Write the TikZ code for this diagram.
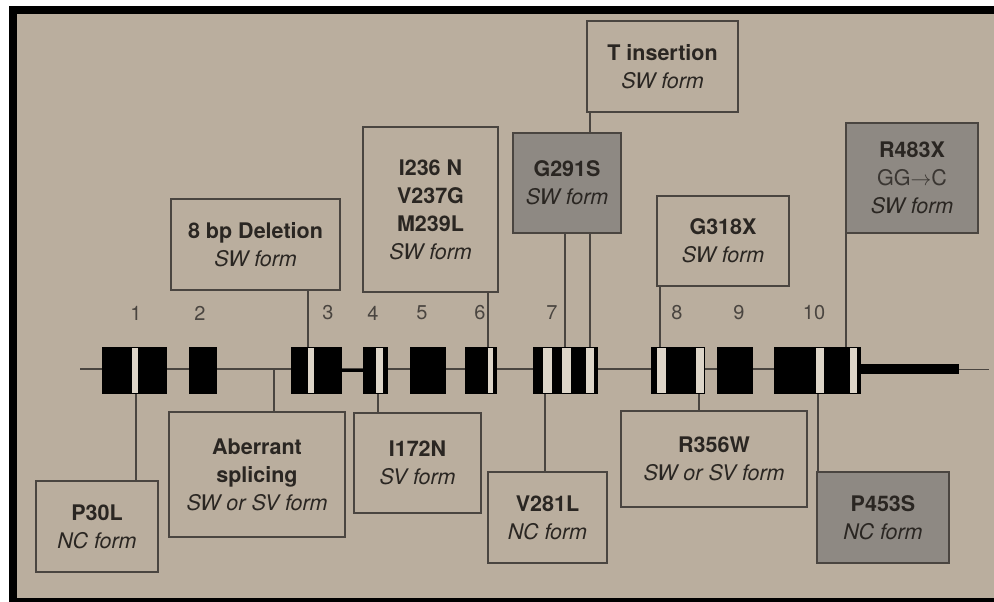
\documentclass[tikz,border=0pt]{standalone}
\usepackage{fontspec}
\setmainfont{TeX Gyre Heros}
\usepackage{tikz}
\usetikzlibrary{positioning}
\definecolor{paper}{HTML}{BAAE9E}
\definecolor{shade}{HTML}{8E8983}
\definecolor{ink}{HTML}{2A2622}
\definecolor{rule}{HTML}{4A4540}
\definecolor{stripe}{HTML}{DDD5C8}
\definecolor{soft}{HTML}{3A3632}
\newcommand{\mut}[1]{\textbf{#1}}
\newcommand{\frm}[1]{\textit{#1}}

\begin{document}
\begin{tikzpicture}[x=1pt,y=-1pt]
\tikzstyle{every node}=[font=\fontsize{21.5}{28}\selectfont,text=ink]
\tikzstyle{mutbox}=[draw=rule,line width=1.3pt,fill=paper,align=center,inner sep=0pt]
\tikzstyle{darkbox}=[mutbox,fill=shade]
\tikzstyle{exon}=[fill=black,inner sep=0pt,minimum height=47pt]
\tikzstyle{band}=[fill=stripe]
\tikzstyle{link}=[draw=rule,line width=1.4pt]
\tikzstyle{num}=[text=rule,font=\fontsize{20}{24}\selectfont]
\useasboundingbox (0,0) rectangle (994,602);
% frame
\fill[white] (0,0) rectangle (994,602);
\fill[black] (9,6) rectangle (994,602);
\fill[paper] (17,14) rectangle (994,598);
% gene
\coordinate (start) at (80,369);
\coordinate (stop) at (989,369);
\node[fill=black,inner sep=0pt,minimum width=98pt,minimum height=10pt] (utr) at (910,369) {};
\draw[link] (start) -- (utr.west);
\draw[draw=rule,line width=0.8pt] (utr.east) -- (stop);
\node[exon,minimum width=65pt] (e1) at (134.5,370.5) {};
\node[exon,minimum width=28pt] (e2) at (203,370.5) {};
\node[exon,minimum width=51pt] (e3) at (316.5,370.5) {};
\node[exon,minimum width=25pt] (e4) at (375.5,370.5) {};
\node[exon,minimum width=36pt] (e5) at (428,370.5) {};
\node[exon,minimum width=32pt] (e6) at (481,370.5) {};
\node[exon,minimum width=65pt] (e7) at (565.5,370.5) {};
\node[exon,minimum width=54pt] (e8) at (678,370.5) {};
\node[exon,minimum width=36pt] (e9) at (735,370.5) {};
\node[exon,minimum width=87pt] (e10) at (817.5,370.5) {};
\draw[draw=black,line width=3pt] (e3.east) -- (e4.west);
\fill[band] (132,348) rectangle (138,393);
\fill[band] (308,348) rectangle (314,393);
\fill[band] (376,348) rectangle (383,393);
\fill[band] (488,348) rectangle (493,393);
\fill[band] (543,348) rectangle (552,393);
\fill[band] (562,348) rectangle (571,393);
\fill[band] (586,348) rectangle (594,393);
\fill[band] (657,348) rectangle (666,393);
\fill[band] (696,348) rectangle (704,393);
\fill[band] (816,348) rectangle (824,393);
\fill[band] (850,348) rectangle (857,393);
% exon numbers
\node[num] (n1) at (136,313) {1};
\node[num] (n2) at (200,313) {2};
\node[num] (n3) at (328,313) {3};
\node[num] (n4) at (373,313) {4};
\node[num] (n5) at (422,313) {5};
\node[num] (n6) at (480,313) {6};
\node[num] (n7) at (552,313) {7};
\node[num] (n8) at (677,313) {8};
\node[num] (n9) at (739,313) {9};
\node[num] (n10) at (814,313) {10};
% attachment points
\coordinate (a1) at (136,394);
\coordinate (a2) at (274,369);
\coordinate (a3) at (308,347);
\coordinate (a4) at (378,394);
\coordinate (a6) at (488,347);
\coordinate (a7) at (545,394);
\coordinate (b7) at (565,347);
\coordinate (c7) at (590,347);
\coordinate (a8) at (660,347);
\coordinate (b8) at (699,394);
\coordinate (a10) at (846,347);
\coordinate (b10) at (818,394);
% mutations above
\node[mutbox,minimum width=151pt,minimum height=91pt] (tins) at (662.5,66.5) {\mut{T insertion}\\\frm{SW form}};
\draw[link] (tins.south -| c7) -- (c7);
\node[mutbox,minimum width=169pt,minimum height=91pt] (del) at (255.5,244.5) {\mut{8 bp Deletion}\\\frm{SW form}};
\node[mutbox,minimum width=135pt,minimum height=165pt] (ivm) at (430.5,209.5) {\mut{I236 N}\\\mut{V237G}\\\mut{M239L}\\\frm{SW form}};
\node[darkbox,minimum width=108pt,minimum height=100pt] (g291) at (567,183) {\mut{G291S}\\\frm{SW form}};
\node[mutbox,minimum width=132pt,minimum height=90pt] (g318) at (723,241) {\mut{G318X}\\\frm{SW form}};
\node[darkbox,minimum width=132pt,minimum height=110pt] (r483) at (912,178) {\mut{R483X}\\{\color{soft}GG$\rightarrow$C}\\\frm{SW form}};
\draw[link] (del.south -| a3) -- (a3);
\draw[link] (ivm.south -| a6) -- (a6);
\draw[link] (g291.south -| b7) -- (b7);
\draw[link] (g318.south -| a8) -- (a8);
\draw[link] (r483.south -| a10) -- (a10);
% mutations below
\node[mutbox,minimum width=122pt,minimum height=91pt] (p30) at (97,526.5) {\mut{P30L}\\\frm{NC form}};
\node[mutbox,minimum width=176pt,minimum height=125pt] (aber) at (257,474.5) {\mut{Aberrant}\\\mut{splicing}\\\frm{SW or SV form}};
\node[mutbox,minimum width=127pt,minimum height=100pt] (i172) at (417.5,463) {\mut{I172N}\\\frm{SV form}};
\node[mutbox,minimum width=119pt,minimum height=91pt] (v281) at (547.5,517.5) {\mut{V281L}\\\frm{NC form}};
\node[mutbox,minimum width=186pt,minimum height=96pt] (r356) at (714,459) {\mut{R356W}\\\frm{SW or SV form}};
\node[darkbox,minimum width=132pt,minimum height=91pt] (p453) at (883,517.5) {\mut{P453S}\\\frm{NC form}};
\draw[link] (a1) -- (a1 |- p30.north);
\draw[link] (a2) -- (a2 |- aber.north);
\draw[link] (a4) -- (a4 |- i172.north);
\draw[link] (a7) -- (a7 |- v281.north);
\draw[link] (b8) -- (b8 |- r356.north);
\draw[link] (b10) -- (b10 |- p453.north);
\end{tikzpicture}
\end{document}
